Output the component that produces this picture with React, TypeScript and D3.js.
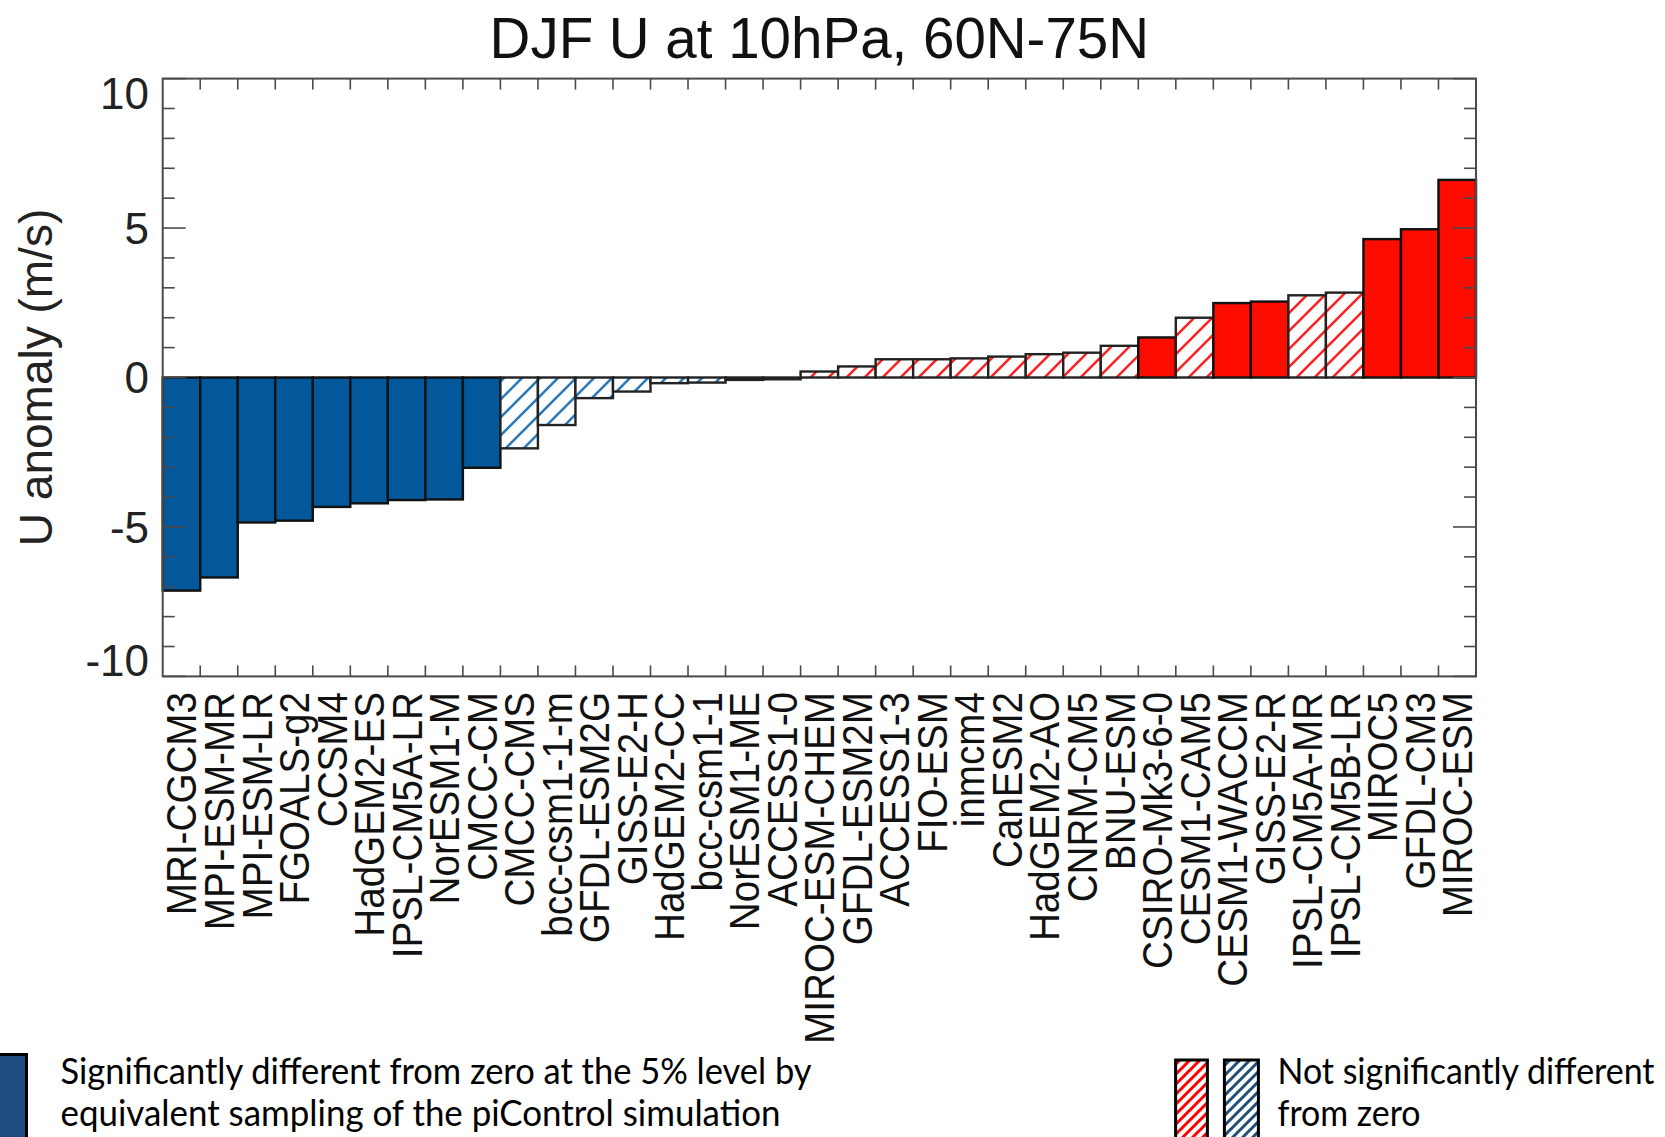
import * as d3 from "d3";

// model names, sorted from most negative to most positive anomaly
const models = [
  "MRI-CGCM3", "MPI-ESM-MR", "MPI-ESM-LR", "FGOALS-g2", "CCSM4", "HadGEM2-ES",
  "IPSL-CM5A-LR", "NorESM1-M", "CMCC-CM", "CMCC-CMS", "bcc-csm1-1-m", "GFDL-ESM2G",
  "GISS-E2-H", "HadGEM2-CC", "bcc-csm1-1", "NorESM1-ME", "ACCESS1-0", "MIROC-ESM-CHEM",
  "GFDL-ESM2M", "ACCESS1-3", "FIO-ESM", "inmcm4", "CanESM2", "HadGEM2-AO", "CNRM-CM5",
  "BNU-ESM", "CSIRO-Mk3-6-0", "CESM1-CAM5", "CESM1-WACCM", "GISS-E2-R", "IPSL-CM5A-MR",
  "IPSL-CM5B-LR", "MIROC5", "GFDL-CM3", "MIROC-ESM",
];

// DJF U anomaly at 10hPa, 60N-75N (m/s)
const uAnomaly = [
  -7.13, -6.69, -4.85, -4.79, -4.33, -4.21, -4.1, -4.08, -3.02, -2.37, -1.59, -0.69,
  -0.47, -0.19, -0.17, -0.08, -0.06, 0.2, 0.37, 0.61, 0.61, 0.64, 0.7, 0.78, 0.83,
  1.06, 1.34, 2.0, 2.49, 2.54, 2.75, 2.84, 4.63, 4.96, 6.61,
];

// 1 = significantly different from zero at 5% level
const significant = [
  1, 1, 1, 1, 1, 1, 1, 1, 1, 0, 0, 0, 0, 0, 0, 0, 0, 0, 0, 0, 0, 0, 0, 0, 0, 0, 1, 0,
  1, 1, 0, 0, 1, 1, 1,
];

const yDomain = [-10, 10];
const yTickLabels = [-10, -5, 0, 5, 10];
const yMinorTicks = d3.range(-10, 11, 1);

const legendLeft = [
  "Significantly different from zero at the 5% level by",
  "equivalent sampling of the piControl simulation",
];
const legendRight = ["Not significantly different", "from zero"];

const W = 1665;
const H = 1137;
const PLOT = { left: 162.7, right: 1476, top: 78.6, bottom: 676.4 };

const BLUE = "#02589b";
const RED = "#ff0c00";
const AXIS = "#4a4a4a";
const FONT = "'Liberation Sans', Arial, Helvetica, sans-serif";
const LEGEND_FONT = "Lato, 'Open Sans', sans-serif";

export default function App() {
  const xScale = d3
    .scaleBand()
    .domain(models)
    .range([PLOT.left, PLOT.right])
    .padding(0);

  const yScale = d3.scaleLinear().domain(yDomain).range([PLOT.bottom, PLOT.top]);

  const bw = xScale.bandwidth();
  const tickFont = 44;
  const capH = tickFont * 0.716;

  // bar boundaries for the top/bottom ticks
  const xBounds = models.slice(1).map((m) => xScale(m));

  return (
    <svg
      width={W}
      height={H}
      style={{ position: "absolute", left: 0, top: 0, background: "#fff" }}
    >
      <defs>
        <pattern id="hatchRed" patternUnits="userSpaceOnUse" width={18} height={18}>
          <rect width={18} height={18} fill="#fff" />
          <path d="M0,18 L18,0 M-4.5,4.5 L4.5,-4.5 M13.5,22.5 L22.5,13.5" stroke="#ff2222" strokeWidth={2.6} />
        </pattern>
        <pattern id="hatchBlue" patternUnits="userSpaceOnUse" width={18} height={18}>
          <rect width={18} height={18} fill="#fff" />
          <path d="M0,18 L18,0 M-4.5,4.5 L4.5,-4.5 M13.5,22.5 L22.5,13.5" stroke="#2a79b9" strokeWidth={2.6} />
        </pattern>
        <pattern id="legRed" patternUnits="userSpaceOnUse" width={10} height={10}>
          <rect width={10} height={10} fill="#fff" />
          <path d="M0,10 L10,0 M-2.5,2.5 L2.5,-2.5 M7.5,12.5 L12.5,7.5" stroke="#ff0000" strokeWidth={3} />
        </pattern>
        <pattern id="legBlue" patternUnits="userSpaceOnUse" width={10} height={10}>
          <rect width={10} height={10} fill="#fff" />
          <path d="M0,10 L10,0 M-2.5,2.5 L2.5,-2.5 M7.5,12.5 L12.5,7.5" stroke="#1f4e79" strokeWidth={3} />
        </pattern>
      </defs>

      {/* title */}
      <text
        x={(PLOT.left + PLOT.right) / 2}
        y={58}
        textAnchor="middle"
        fontFamily={FONT}
        fontSize={56.5}
        fill="#111"
      >
        DJF U at 10hPa, 60N-75N
      </text>

      {/* bars */}
      {models.map((m, i) => {
        const v = uAnomaly[i];
        const y0 = yScale(0);
        const y1 = yScale(v);
        const pos = v >= 0;
        const fill = significant[i]
          ? pos ? RED : BLUE
          : pos ? "url(#hatchRed)" : "url(#hatchBlue)";
        return (
          <rect
            key={m}
            x={xScale(m)}
            y={Math.min(y0, y1)}
            width={bw}
            height={Math.abs(y1 - y0)}
            fill={fill}
            stroke={significant[i] ? "#111" : "#222"}
            strokeWidth={2.4}
          />
        );
      })}

      {/* frame */}
      <rect
        x={PLOT.left}
        y={PLOT.top}
        width={PLOT.right - PLOT.left}
        height={PLOT.bottom - PLOT.top}
        fill="none"
        stroke={AXIS}
        strokeWidth={2}
      />

      {/* x ticks, top and bottom */}
      {xBounds.map((x, i) => (
        <g key={"xt" + i} stroke={AXIS} strokeWidth={1.6}>
          <line x1={x} x2={x} y1={PLOT.bottom} y2={PLOT.bottom - 11} />
          <line x1={x} x2={x} y1={PLOT.top} y2={PLOT.top + 11} />
        </g>
      ))}

      {/* y ticks, left and right */}
      {yMinorTicks.map((v) => {
        const y = yScale(v);
        const len = v % 5 === 0 ? 23 : 12;
        return (
          <g key={"yt" + v} stroke={AXIS} strokeWidth={1.6}>
            <line x1={PLOT.left} x2={PLOT.left + len} y1={y} y2={y} />
            <line x1={PLOT.right} x2={PLOT.right - len} y1={y} y2={y} />
          </g>
        );
      })}

      {/* y tick labels */}
      {yTickLabels.map((v) => {
        const off = v === yDomain[1] ? capH - 1 : v === yDomain[0] ? 0 : capH / 2;
        return (
          <text
            key={"yl" + v}
            x={149}
            y={yScale(v) + off}
            textAnchor="end"
            fontFamily={FONT}
            fontSize={tickFont}
            fill="#222"
          >
            {v}
          </text>
        );
      })}

      {/* y axis title */}
      <text
        transform={`translate(52,${(PLOT.top + PLOT.bottom) / 2}) rotate(-90)`}
        textAnchor="middle"
        fontFamily={FONT}
        fontSize={46}
        fill="#222"
      >
        U anomaly (m/s)
      </text>

      {/* x labels */}
      {models.map((m) => (
        <text
          key={"xl" + m}
          transform={`translate(${xScale(m)! + bw / 2 + 15},692) rotate(-90) scale(0.92,1)`}
          textAnchor="end"
          fontFamily={FONT}
          fontSize={42}
          fill="#111"
        >
          {m}
        </text>
      ))}

      {/* legend */}
      <rect x={-5} y={1054.5} width={31.5} height={100} fill="#1e4b80" stroke="#000" strokeWidth={3} />
      {legendLeft.map((t, i) => (
        <text
          key={"ll" + i}
          x={60.5}
          y={1084 + i * 42}
          fontFamily={LEGEND_FONT}
          fontSize={36}
          fill="#000"
          textLength={i === 0 ? 751 : 720}
          lengthAdjust="spacingAndGlyphs"
        >
          {t}
        </text>
      ))}
      <rect x={1175.6} y={1060} width={31.8} height={100} fill="url(#legRed)" stroke="#000" strokeWidth={3} />
      <rect x={1224.4} y={1060} width={34} height={100} fill="url(#legBlue)" stroke="#000" strokeWidth={3} />
      {legendRight.map((t, i) => (
        <text
          key={"lr" + i}
          x={1277.5}
          y={1084 + i * 42}
          fontFamily={LEGEND_FONT}
          fontSize={36}
          fill="#000"
          textLength={i === 0 ? 377 : 143}
          lengthAdjust="spacingAndGlyphs"
        >
          {t}
        </text>
      ))}
    </svg>
  );
}
